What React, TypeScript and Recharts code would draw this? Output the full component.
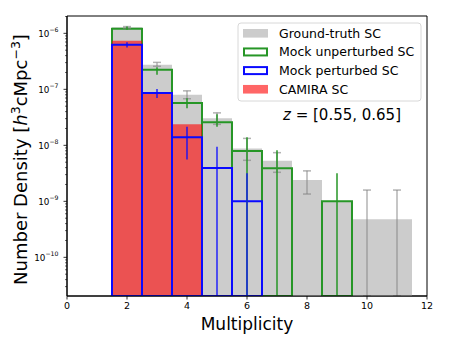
import React from 'react';
import { ComposedChart, Bar, XAxis, YAxis, ErrorBar, ReferenceArea } from 'recharts';

// bin centres (multiplicity)
const multiplicity = [2, 3, 4, 5, 6, 7, 8, 9, 10, 11];

// Ground-truth SC (gray) with upper / lower error limits; 0 = error reaches below the axis
const truth = [1.28e-6, 2.75e-7, 8.0e-8, 3.05e-8, 8.8e-9, 5.3e-9, 2.4e-9, 1.0e-9, 4.8e-10, 4.8e-10];
const truthHi = [1.32e-6, 3.03e-7, 9.4e-8, 3.8e-8, 1.33e-8, 7.4e-9, 3.5e-9, null, 1.59e-9, 1.59e-9];
const truthLo = [1.23e-6, 2.58e-7, 6.8e-8, 2.37e-8, 5.4e-9, 3.3e-9, 1.35e-9, null, 0, 0];

// Mock unperturbed SC (green)
const mockU = [1.21e-6, 2.24e-7, 5.7e-8, 2.58e-8, 7.9e-9, 3.9e-9, null, 1.0e-9, null, null];
const mockUHi = [1.33e-6, 2.47e-7, 6.9e-8, 3.58e-8, 1.39e-8, 8.2e-9, null, 3.16e-9, null, null];
const mockULo = [1.16e-6, 1.82e-7, 4.6e-8, 2.15e-8, 0, 0, null, 0, null, null];

// Mock perturbed SC (blue)
const mockP = [6.25e-7, 8.6e-8, 1.39e-8, 3.93e-9, 1.0e-9, null, null, null, null, null];
const mockPHi = [6.9e-7, 1.01e-7, 2.15e-8, 9.4e-9, 3.16e-9, null, null, null, null, null];
const mockPLo = [5.6e-7, 7.0e-8, 5.6e-9, 0, 0, null, null, null, null, null];

// CAMIRA SC (red)
const camira = [7.4e-7, 8.7e-8, 2.37e-8, null, null, null, null, null, null, null];

const xTicks = [0, 2, 4, 6, 8, 10, 12];
const yMajor = [1e-10, 1e-9, 1e-8, 1e-7, 1e-6];

const Y_MIN = 2.04e-11;
const Y_MAX = 2.04e-6;

const GREEN = '#269626';
const BLUE = '#0a0aff';
const FONT = '"DejaVu Sans", sans-serif';

// log minor ticks between the majors
const yTicks: number[] = [];
for (let e = -11; e <= -6; e++) {
  for (let m = 1; m <= 9; m++) {
    const v = m * Math.pow(10, e);
    if (v >= Y_MIN && v <= Y_MAX) yTicks.push(v);
  }
}

const err = (v: number | null, hi: number | null, lo: number | null) => {
  if (v == null || hi == null || lo == null) return undefined;
  return [v - Math.max(lo, Y_MIN), hi - v];
};

const data = multiplicity.map((m, i) => ({
  m,
  truth: truth[i],
  truthErr: err(truth[i], truthHi[i], truthLo[i]),
  mockU: mockU[i],
  mockUErr: err(mockU[i], mockUHi[i], mockULo[i]),
  mockP: mockP[i],
  mockPErr: err(mockP[i], mockPHi[i], mockPLo[i]),
  camira: camira[i],
}));

const LogTick = (props: any) => {
  const { x, y, payload } = props;
  const lg = Math.log10(payload.value);
  const exp = Math.round(lg);
  const major = Math.abs(lg - exp) < 1e-6 && yMajor.some((t) => Math.abs(Math.log10(t) - lg) < 1e-6);
  return (
    <g>
      <line x1={x - (major ? 3.5 : 2)} x2={x} y1={y} y2={y} stroke="#000" strokeWidth={major ? 0.8 : 0.6} />
      {major && (
        <text x={x - 8.5} y={y + 3.2} textAnchor="end" fontSize={8.8} fill="#000" fontFamily={FONT}>
          <tspan>10</tspan>
          <tspan fontSize={6.2} dy={-4.3}>{'\u2212' + Math.abs(exp)}</tspan>
        </text>
      )}
    </g>
  );
};

const legendRows = [
  { label: 'Ground-truth SC', fill: '#cccccc', stroke: 'none' },
  { label: 'Mock unperturbed SC', fill: 'none', stroke: GREEN },
  { label: 'Mock perturbed SC', fill: 'none', stroke: BLUE },
  { label: 'CAMIRA SC', fill: '#ff6666', stroke: 'none' },
];

const App: React.FC = () => {
  return (
    <div style={{ position: 'absolute', left: 0, top: 0, width: 450, height: 337, background: '#fff' }}>
      <ComposedChart
        width={450}
        height={337}
        data={data}
        margin={{ top: 16, right: 23, bottom: 0, left: 10 }}
        barCategoryGap={0}
        barGap={0}
      >
        <XAxis
          xAxisId="main"
          type="number"
          dataKey="m"
          domain={[0, 12]}
          ticks={xTicks}
          interval={0}
          height={41}
          tickSize={3.5}
          tickMargin={3}
          tickLine={{ stroke: '#000', strokeWidth: 0.8 }}
          axisLine={{ stroke: '#000', strokeWidth: 1 }}
          tick={{ fill: '#000', fontSize: 9.5, fontFamily: FONT }}
          allowDataOverflow
        />
        <XAxis xAxisId="mu" type="number" dataKey="m" domain={[0, 12]} height={0} hide allowDataOverflow />
        <XAxis xAxisId="cam" type="number" dataKey="m" domain={[0, 12]} height={0} hide allowDataOverflow />
        <XAxis xAxisId="mp" type="number" dataKey="m" domain={[0, 12]} height={0} hide allowDataOverflow />
        <YAxis
          type="number"
          scale="log"
          domain={[Y_MIN, Y_MAX]}
          allowDataOverflow
          ticks={yTicks}
          interval={0}
          width={57}
          tickSize={0}
          tickMargin={0}
          tickLine={false}
          axisLine={{ stroke: '#000', strokeWidth: 1 }}
          tick={<LogTick />}
        />

        <Bar xAxisId="main" dataKey="truth" fill="#cccccc" isAnimationActive={false}>
          <ErrorBar dataKey="truthErr" width={4} stroke="#808080" strokeOpacity={0.6} strokeWidth={1.5} />
        </Bar>
        <Bar xAxisId="mu" dataKey="mockU" fill="none" stroke={GREEN} strokeWidth={2} isAnimationActive={false}>
          <ErrorBar dataKey="mockUErr" width={0} stroke={GREEN} strokeWidth={1.5} />
        </Bar>
        <Bar xAxisId="cam" dataKey="camira" fill="#ff0000" fillOpacity={0.6} isAnimationActive={false} />
        <Bar xAxisId="mp" dataKey="mockP" fill="none" stroke={BLUE} strokeWidth={2} isAnimationActive={false}>
          <ErrorBar dataKey="mockPErr" width={0} stroke={BLUE} strokeWidth={1.3} />
        </Bar>

        <ReferenceArea
          xAxisId="main"
          x1={0}
          x2={12}
          y1={Y_MIN}
          y2={Y_MAX}
          fill="none"
          stroke="#000"
          strokeWidth={1}
          ifOverflow="visible"
        />
      </ComposedChart>

      <svg width={450} height={337} style={{ position: 'absolute', left: 0, top: 0, pointerEvents: 'none' }}>
        <g fontFamily={FONT} fill="#000">
          <text x={247} y={330} textAnchor="middle" fontSize={17}>
            Multiplicity
          </text>
          <text x={0} y={0} textAnchor="middle" fontSize={18} transform="translate(27,159.5) rotate(-90)">
            <tspan>Number Density [</tspan>
            <tspan fontStyle="italic">h</tspan>
            <tspan fontSize={12.5} dy={-7.5}>3</tspan>
            <tspan dy={7.5}>cMpc</tspan>
            <tspan fontSize={12.5} dy={-7.5}>{'\u22123'}</tspan>
            <tspan dy={7.5}>]</tspan>
          </text>
        </g>

        <rect x={238} y={23} width={183} height={78} rx={3} fill="#fff" fillOpacity={0.8} stroke="#d8d8d8" strokeWidth={1} />
        {legendRows.map((r, i) => {
          const cy = 33.3 + i * 18.65;
          return (
            <g key={r.label}>
              <rect
                x={r.stroke === 'none' ? 243 : 244}
                y={cy - (r.stroke === 'none' ? 4.3 : 3.5)}
                width={r.stroke === 'none' ? 25 : 23}
                height={r.stroke === 'none' ? 8.6 : 7}
                fill={r.fill}
                stroke={r.stroke}
                strokeWidth={2}
              />
              <text x={279} y={cy + 4.5} fontSize={12.5} fontFamily={FONT} fill="#000">
                {r.label}
              </text>
            </g>
          );
        })}

        <text x={283} y={120} fontSize={15} fontFamily={FONT} fill="#000">
          <tspan fontStyle="italic">z</tspan>
          <tspan>{' = [0.55, 0.65]'}</tspan>
        </text>
      </svg>
    </div>
  );
};

export default App;
